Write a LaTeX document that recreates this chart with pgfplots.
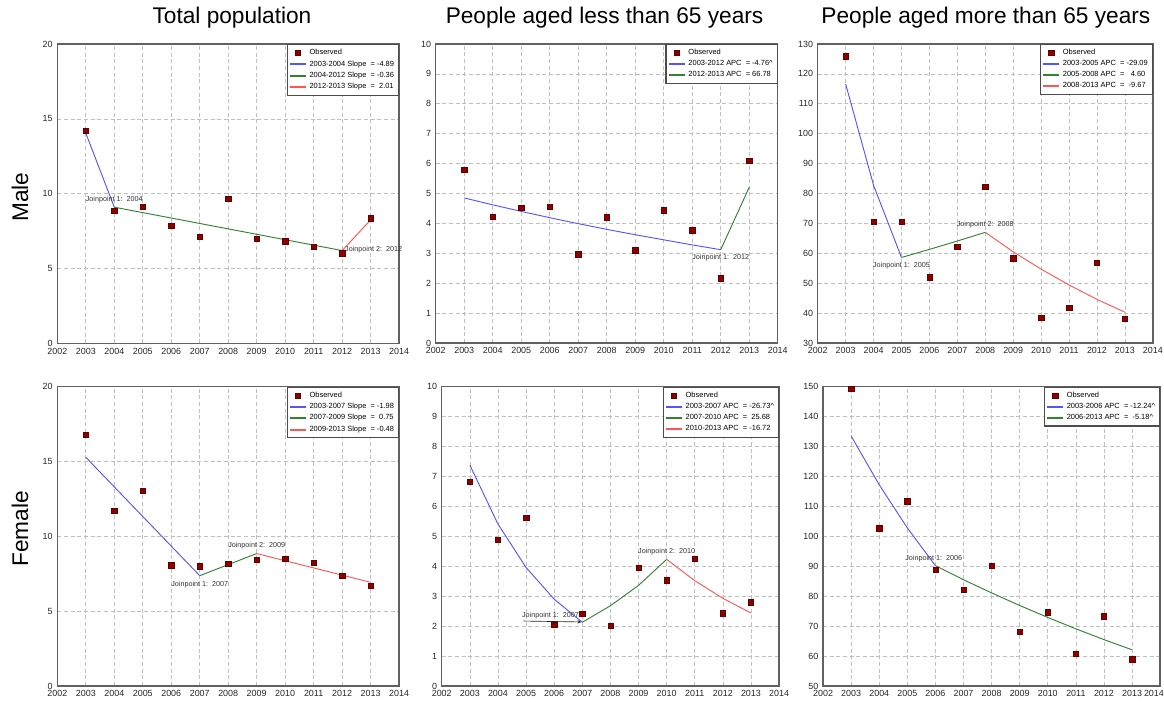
\documentclass[border=0pt]{standalone}
\usepackage{pgfplots}
\pgfplotsset{compat=1.18}
\usepackage{fontspec}
\setmainfont{Liberation Sans}
\usetikzlibrary{arrows.meta}
\definecolor{obsred}{RGB}{140,0,0}
\definecolor{fitblue}{RGB}{85,85,255}
\definecolor{fitgreen}{RGB}{50,130,50}
\definecolor{fitred}{RGB}{255,85,85}
\tikzset{jplab/.style={font=\fontsize{5.4}{6}\selectfont, text=black!80, inner sep=0pt}}
\pgfplotsset{
  jp/.style={
    scale only axis, clip=false,
    xmin=2002, xmax=2014,
    xtick={2002,2003,...,2014},
    grid=major,
    grid style={densely dashed, black!25, line width=0.5pt},
    axis line style={black!62, line width=1.1pt},
    major tick length=0pt,
    tick label style={font=\fontsize{6.7}{8}\selectfont, text=black!85},
    /pgf/number format/1000 sep={},
    /pgf/number format/assume math mode=true,
    legend style={at={(1,1)}, anchor=north east, draw=black!70, line width=0.9pt,
      fill=white, font=\fontsize{5.6}{6.3}\selectfont, inner sep=1.3pt,
      row sep=-1pt, cells={anchor=west}},
    legend cell align=left,
  },
  obs/.style={only marks, mark=square*, mark size=2pt,
    mark options={fill=obsred, draw=obsred!70!black, line width=0.3pt},
    legend image code/.code={\draw[##1, only marks] plot coordinates {(6pt,0pt)};}},
  fit/.style={line width=0.7pt, mark=none, color=#1,
    legend image code/.code={\draw[color=#1, line width=1.5pt] (0pt,0pt) -- (12pt,0pt);}},
}
\begin{document}
\begin{tikzpicture}
\path[use as bounding box] (0,0) rectangle (873pt,525.75pt);

% titles
\node[font=\fontsize{17}{20}\selectfont] at (174pt,512.3pt) {Total population};
\node[font=\fontsize{17}{20}\selectfont] at (453.4pt,512.3pt) {People aged less than 65 years};
\node[font=\fontsize{17}{20}\selectfont] at (739.4pt,512.3pt) {People aged more than 65 years};
\node[font=\fontsize{17}{20}\selectfont, rotate=90] at (15pt,378pt) {Male};
\node[font=\fontsize{17}{20}\selectfont, rotate=90] at (15pt,129pt) {Female};

% ---------- Male, total ----------
\begin{axis}[jp, at={(43pt,268.3pt)}, anchor=south west, width=256.3pt, height=224.3pt,
  ymin=0, ymax=20, ytick={0,5,10,15,20}]
\addplot[obs] coordinates {(2003,14.2) (2004,8.87) (2005,9.14) (2006,7.85) (2007,7.11) (2008,9.65) (2009,6.98) (2010,6.82) (2011,6.44) (2012,6.02) (2013,8.36)};
\addlegendentry{Observed}
\addplot[fit=fitblue] coordinates {(2003,14.05) (2004,9.1)};
\addlegendentry{2003-2004 Slope~ = -4.89}
\addplot[fit=fitgreen] coordinates {(2004,9.1) (2012,6.2)};
\addlegendentry{2004-2012 Slope~ = -0.36}
\addplot[fit=fitred] coordinates {(2012,6.2) (2013,8.25)};
\addlegendentry{2012-2013 Slope~ = ~2.01}
\node[jplab] at (axis cs:2004,9.6) {Joinpoint 1:\ \ 2004};
\node[jplab, anchor=west] at (axis cs:2012.1,6.25) {Joinpoint 2:\ \ 2012};
\end{axis}

% ---------- Male, <65 ----------
\begin{axis}[jp, at={(326.8pt,268.5pt)}, anchor=south west, width=256.5pt, height=224.3pt,
  ymin=0, ymax=10, ytick={0,1,...,10}]
\addplot[obs] coordinates {(2003,5.80) (2004,4.23) (2005,4.52) (2006,4.55) (2007,2.97) (2008,4.21) (2009,3.10) (2010,4.44) (2011,3.77) (2012,2.17) (2013,6.10)};
\addlegendentry{Observed}
\addplot[fit=fitblue] coordinates {(2003,4.85) (2004,4.62) (2005,4.40) (2006,4.19) (2007,3.99) (2008,3.80) (2009,3.62) (2010,3.45) (2011,3.28) (2012,3.12)};
\addlegendentry{2003-2012 APC~ = -4.76\textasciicircum}
\addplot[fit=fitgreen] coordinates {(2012,3.12) (2013,5.21)};
\addlegendentry{2012-2013 APC~ = 66.78}
\node[jplab] at (axis cs:2012,2.86) {Joinpoint 1:\ \ 2012};
\end{axis}

% ---------- Male, >65 ----------
\begin{axis}[jp, at={(613.3pt,268.5pt)}, anchor=south west, width=251.3pt, height=224.3pt,
  ymin=30, ymax=130, ytick={30,40,...,130}]
\addplot[obs] coordinates {(2003,125.9) (2004,70.5) (2005,70.5) (2006,52.0) (2007,62.2) (2008,82.3) (2009,58.3) (2010,38.5) (2011,41.9) (2012,56.9) (2013,38.2)};
\addlegendentry{Observed}
\addplot[fit=fitblue] coordinates {(2003,116.6) (2004,82.7) (2005,58.6)};
\addlegendentry{2003-2005 APC~ = -29.09}
\addplot[fit=fitgreen] coordinates {(2005,58.6) (2006,61.3) (2007,64.1) (2008,67.0)};
\addlegendentry{2005-2008 APC~ = ~ 4.60}
\addplot[fit=fitred] coordinates {(2008,67.0) (2009,60.5) (2010,54.7) (2011,49.4) (2012,44.6) (2013,40.3)};
\addlegendentry{2008-2013 APC~ = ~-9.67}
\node[jplab] at (axis cs:2005,55.9) {Joinpoint 1:\ \ 2005};
\node[jplab] at (axis cs:2008,69.5) {Joinpoint 2:\ \ 2008};
\end{axis}

% ---------- Female, total ----------
\begin{axis}[jp, at={(43pt,11.25pt)}, anchor=south west, width=256.3pt, height=224.5pt,
  ymin=0, ymax=20, ytick={0,5,10,15,20}]
\addplot[obs] coordinates {(2003,16.79) (2004,11.71) (2005,13.05) (2006,8.08) (2007,8.00) (2008,8.17) (2009,8.44) (2010,8.51) (2011,8.22) (2012,7.37) (2013,6.70)};
\addlegendentry{Observed}
\addplot[fit=fitblue] coordinates {(2003,15.28) (2007,7.37)};
\addlegendentry{2003-2007 Slope~ = -1.98}
\addplot[fit=fitgreen] coordinates {(2007,7.37) (2009,8.85)};
\addlegendentry{2007-2009 Slope~ = ~0.75}
\addplot[fit=fitred] coordinates {(2009,8.85) (2013,6.93)};
\addlegendentry{2009-2013 Slope~ = -0.48}
\node[jplab] at (axis cs:2007,6.79) {Joinpoint 1:\ \ 2007};
\node[jplab] at (axis cs:2009,9.35) {Joinpoint 2:\ \ 2009};
\end{axis}

% ---------- Female, <65 ----------
\begin{axis}[jp, at={(331.3pt,11.25pt)}, anchor=south west, width=253pt, height=224.5pt,
  ymin=0, ymax=10, ytick={0,1,...,10}]
\addplot[obs] coordinates {(2003,6.83) (2004,4.89) (2005,5.63) (2006,2.05) (2007,2.42) (2008,2.02) (2009,3.96) (2010,3.53) (2011,4.26) (2012,2.43) (2013,2.80)};
\addlegendentry{Observed}
\addplot[fit=fitblue] coordinates {(2003,7.38) (2004,5.41) (2005,3.96) (2006,2.90) (2007,2.13)};
\addlegendentry{2003-2007 APC~ = -26.73\textasciicircum}
\addplot[fit=fitgreen] coordinates {(2007,2.13) (2008,2.68) (2009,3.36) (2010,4.23)};
\addlegendentry{2007-2010 APC~ = ~25.68}
\addplot[fit=fitred] coordinates {(2010,4.23) (2011,3.52) (2012,2.93) (2013,2.44)};
\addlegendentry{2010-2013 APC~ = -16.72}
\node[jplab] at (axis cs:2005.87,2.34) {Joinpoint 1:\ \ 2007};
\draw[black!85, line width=0.5pt, -{Stealth[length=3pt,width=2.5pt]}] (axis cs:2004.9,2.17) -- (axis cs:2006.97,2.14);
\node[jplab] at (axis cs:2010,4.49) {Joinpoint 2:\ \ 2010};
\end{axis}

% ---------- Female, >65 ----------
\begin{axis}[jp, at={(617.3pt,11.25pt)}, anchor=south west, width=252.8pt, height=224.5pt,
  ymin=50, ymax=150, ytick={50,60,...,150},
  xticklabels={2002,2003,2004,2005,2006,2007,2008,2009,2010,2011,2012,2013,{}}]
\addplot[obs] coordinates {(2003,149.3) (2004,102.7) (2005,111.7) (2006,88.8) (2007,82.1) (2008,90.2) (2009,68.2) (2010,74.7) (2011,60.8) (2012,73.3) (2013,58.9)};
\addlegendentry{Observed}
\addplot[fit=fitblue] coordinates {(2003,133.5) (2004,117.2) (2005,102.8) (2006,90.2)};
\addlegendentry{2003-2006 APC~ = -12.24\textasciicircum}
\addplot[fit=fitgreen] coordinates {(2006,90.2) (2007,85.5) (2008,81.1) (2009,76.9) (2010,72.9) (2011,69.1) (2012,65.5) (2013,62.1)};
\addlegendentry{2006-2013 APC~ = ~-5.18\textasciicircum}
\node[jplab] at (axis cs:2005.94,92.6) {Joinpoint 1:\ \ 2006};
\node[font=\fontsize{6.7}{8}\selectfont, text=black!85, anchor=north east, inner sep=0pt] at ([xshift=3pt,yshift=-3.3pt]rel axis cs:1,0) {2014};
\end{axis}
\end{tikzpicture}
\end{document}
